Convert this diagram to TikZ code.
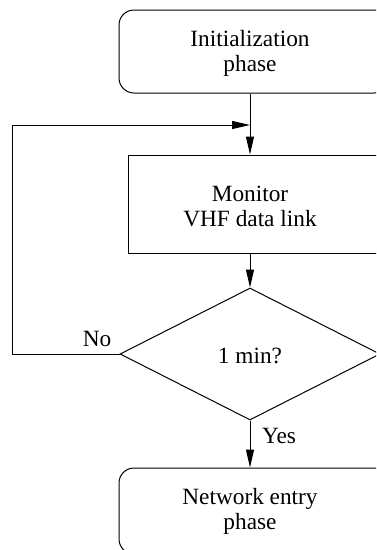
\documentclass[tikz,border=0pt]{standalone}
\usepackage{fontspec}
\setmainfont{Liberation Serif}
\usetikzlibrary{shapes.geometric,arrows.meta}
\begin{document}
\begin{tikzpicture}[x=1pt,y=-1pt,
  every node/.style={font=\fontsize{23.3}{25}\selectfont},
  term/.style={draw, line width=1pt, rounded corners=15pt, minimum width=270pt, minimum height=83pt, inner sep=0pt},
  proc/.style={draw, line width=1pt, minimum width=260pt, minimum height=98pt, inner sep=0pt},
  dec/.style={draw, line width=1pt, diamond, minimum width=260pt, minimum height=132pt, inner sep=0pt},
  txt/.style={align=center, inner sep=0pt},
  flow/.style={line width=1pt, -{Triangle[length=18pt,width=8pt]}},
  lbl/.style={inner sep=0pt}]
\useasboundingbox (0,0) rectangle (376,550);
\clip (0,0) rectangle (376,550);
\node[term] (init) at (254,51.5) {};
\node[txt] (initT) at (250,53) {Initialization\\phase};
\node[proc] (mon) at (258,204) {};
\node[txt] (monT) at (250,206) {Monitor\\VHF data link};
\node[dec] (dec) at (250,354) {};
\node[txt] (decT) at (250,356) {1 min?};
\node[term, minimum height=86pt] (net) at (254,511) {};
\node[txt] (netT) at (250,511) {Network entry\\phase};
\coordinate (join) at (250,125);
\coordinate (bl) at (12,354);
\coordinate (tl) at (12,125);
\draw[flow] (initT |- init.south) -- (monT |- mon.north);
\draw[flow] (monT |- mon.south) -- (dec.north);
\draw[flow] (dec.south) -- (netT |- net.north);
\draw[flow] (dec.west) -- (bl) -- (tl) -- (join);
\node[lbl] (no) at (97,339) {No};
\node[lbl] (yes) at (279,436) {Yes};
\end{tikzpicture}
\end{document}
